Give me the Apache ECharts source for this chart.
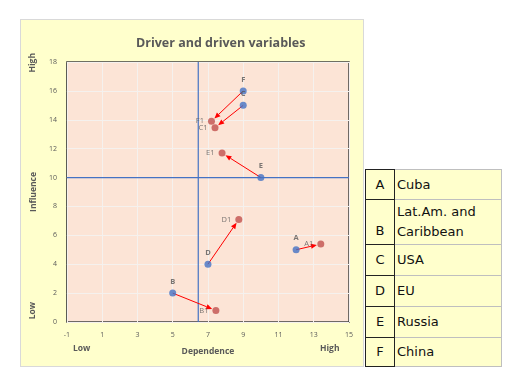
<!DOCTYPE html>
<html>
<head>
<meta charset="utf-8">
<script src="https://cdn.jsdelivr.net/npm/echarts@6/dist/echarts.min.js"></script>
<style>
  body { margin: 0; width: 513px; height: 378px; background: #fff; position: relative; overflow: hidden; }
  #chart { position: absolute; left: 21px; top: 20px; width: 342px; height: 346px; outline: 1px solid #d9d9d9; }
  #legendTable {
    position: absolute; left: 365px; top: 169px; width: 137px;
    border-collapse: collapse; font-family: "DejaVu Sans", sans-serif; font-size: 13px; color: #111;
    background: #ffffcc;
  }
  #legendTable td { border: 1px solid #bfbfbf; padding: 0 0 0 2px; vertical-align: middle; line-height: 20px; white-space: nowrap; }
  #legendTable td.code { width: 28px; text-align: center; border: 1.5px solid #222; padding-left: 0; }
  #legendTable td.low { vertical-align: bottom; padding-bottom: 3px; }
</style>
</head>
<body>
<div id="chart"></div>
<table id="legendTable"></table>
<script>
// actors, now (blue) and later (red)
const codes = ['A', 'B', 'C', 'D', 'E', 'F'];
const countries = ['Cuba', 'Lat.Am. and Caribbean', 'USA', 'EU', 'Russia', 'China'];
const dependenceNow = [12, 5, 9, 7, 10, 9];
const influenceNow = [5, 2, 15, 4, 10, 16];
const dependenceNext = [13.4, 7.45, 7.4, 8.75, 7.8, 7.2];
const influenceNext = [5.4, 0.8, 13.45, 7.1, 11.7, 13.9];
// axes
const xRange = [-1, 15, 2];
const yRange = [0, 18, 2];
const dividerX = 6.45;
const dividerY = 10;
const rowHeights = [30, 45, 31, 31, 31, 29];

// legend table
const table = document.getElementById('legendTable');
codes.forEach(function (c, i) {
  const tr = document.createElement('tr');
  tr.style.height = rowHeights[i] + 'px';
  const twoLines = countries[i] === 'Lat.Am. and Caribbean';
  const name = twoLines ? 'Lat.Am. and<br>Caribbean' : countries[i];
  tr.innerHTML = '<td class="code' + (twoLines ? ' low' : '') + '">' + c + '</td><td>' + name + '</td>';
  table.appendChild(tr);
});

var chart = echarts.init(document.getElementById('chart'));
const grey = '#595959';
const font = 'Open Sans';

const nowData = codes.map((c, i) => [dependenceNow[i], influenceNow[i], c]);
const nextData = codes.map((c, i) => [dependenceNext[i], influenceNext[i], c + '1']);
const arrowData = codes.map((c, i) => [dependenceNow[i], influenceNow[i], dependenceNext[i], influenceNext[i]]);

const option = {
  backgroundColor: '#ffffcc',
  animation: false,
  title: {
    text: 'Driver and driven variables',
    left: 110,
    top: 12,
    textStyle: { color: grey, fontSize: 12.5, fontWeight: 'bold', fontFamily: font }
  },
  grid: {
    left: 41, top: 42, width: 287, height: 260,
    show: true, backgroundColor: '#fce4d6', borderColor: '#404040', borderWidth: 1.5
  },
  xAxis: {
    type: 'value', min: xRange[0], max: xRange[1], interval: xRange[2],
    name: 'Dependence', nameLocation: 'middle', nameGap: 25,
    nameTextStyle: { color: grey, fontSize: 8.5, fontWeight: 'bold', fontFamily: font },
    axisLine: { show: false }, axisTick: { show: false },
    axisLabel: { color: grey, fontSize: 7, margin: 9, fontFamily: font },
    splitLine: { lineStyle: { color: '#f5f1ee', width: 1 } }
  },
  yAxis: {
    type: 'value', min: yRange[0], max: yRange[1], interval: yRange[2],
    name: 'Influence', nameLocation: 'middle', nameGap: 22, nameRotate: 90,
    nameTextStyle: { color: grey, fontSize: 8.5, fontWeight: 'bold', fontFamily: font },
    axisLine: { show: false }, axisTick: { show: false },
    axisLabel: { color: grey, fontSize: 7, margin: 10, fontFamily: font },
    splitLine: { lineStyle: { color: '#f5f1ee', width: 1 } }
  },
  graphic: [
    { type: 'text', left: 7, top: 33, rotation: Math.PI / 2,
      style: { text: 'High', fill: grey, font: 'bold 8.5px "Open Sans"' } },
    { type: 'text', left: 7, top: 282, rotation: Math.PI / 2,
      style: { text: 'Low', fill: grey, font: 'bold 8.5px "Open Sans"' } },
    { type: 'text', left: 52, top: 324,
      style: { text: 'Low', fill: grey, font: 'bold 8.5px "Open Sans"' } },
    { type: 'text', left: 299, top: 324,
      style: { text: 'High', fill: grey, font: 'bold 8.5px "Open Sans"' } }
  ],
  series: [
    {
      // quadrant dividers
      type: 'line', silent: true, symbol: 'none', z: 2,
      lineStyle: { color: '#4472c4', width: 1.2 },
      data: [[dividerX, yRange[0]], [dividerX, yRange[1]]]
    },
    {
      type: 'line', silent: true, symbol: 'none', z: 2,
      lineStyle: { color: '#4472c4', width: 1.2 },
      data: [[xRange[0], dividerY], [xRange[1], dividerY]]
    },
    {
      type: 'custom',
      data: arrowData,
      z: 3,
      renderItem: function (params, api) {
        const p0 = api.coord([api.value(0), api.value(1)]);
        const p1 = api.coord([api.value(2), api.value(3)]);
        const dx = p1[0] - p0[0], dy = p1[1] - p0[1];
        const len = Math.sqrt(dx * dx + dy * dy);
        const ux = dx / len, uy = dy / len;
        const tip = [p1[0] - ux * 4, p1[1] - uy * 4];
        const base = [tip[0] - ux * 6, tip[1] - uy * 6];
        const w = 2.6;
        return {
          type: 'group',
          children: [
            { type: 'line', shape: { x1: p0[0], y1: p0[1], x2: base[0], y2: base[1] },
              style: { stroke: '#ff0000', lineWidth: 1 } },
            { type: 'polygon',
              shape: { points: [tip, [base[0] - uy * w, base[1] + ux * w], [base[0] + uy * w, base[1] - ux * w]] },
              style: { fill: '#ff0000' } }
          ]
        };
      }
    },
    {
      type: 'scatter', data: nowData, symbolSize: 7, z: 4,
      itemStyle: { color: '#4472c4' },
      label: { show: true, position: 'top', distance: 4, formatter: p => p.value[2],
        color: grey, fontSize: 7.5, fontWeight: 'bold', fontFamily: font }
    },
    {
      type: 'scatter', data: nextData, symbolSize: 7, z: 4,
      itemStyle: { color: '#c0504d' },
      label: { show: true, position: 'left', distance: 4, formatter: p => p.value[2],
        color: grey, fontSize: 7.5, fontFamily: font }
    }
  ]
};
chart.setOption(option);
</script>
</body>
</html>
